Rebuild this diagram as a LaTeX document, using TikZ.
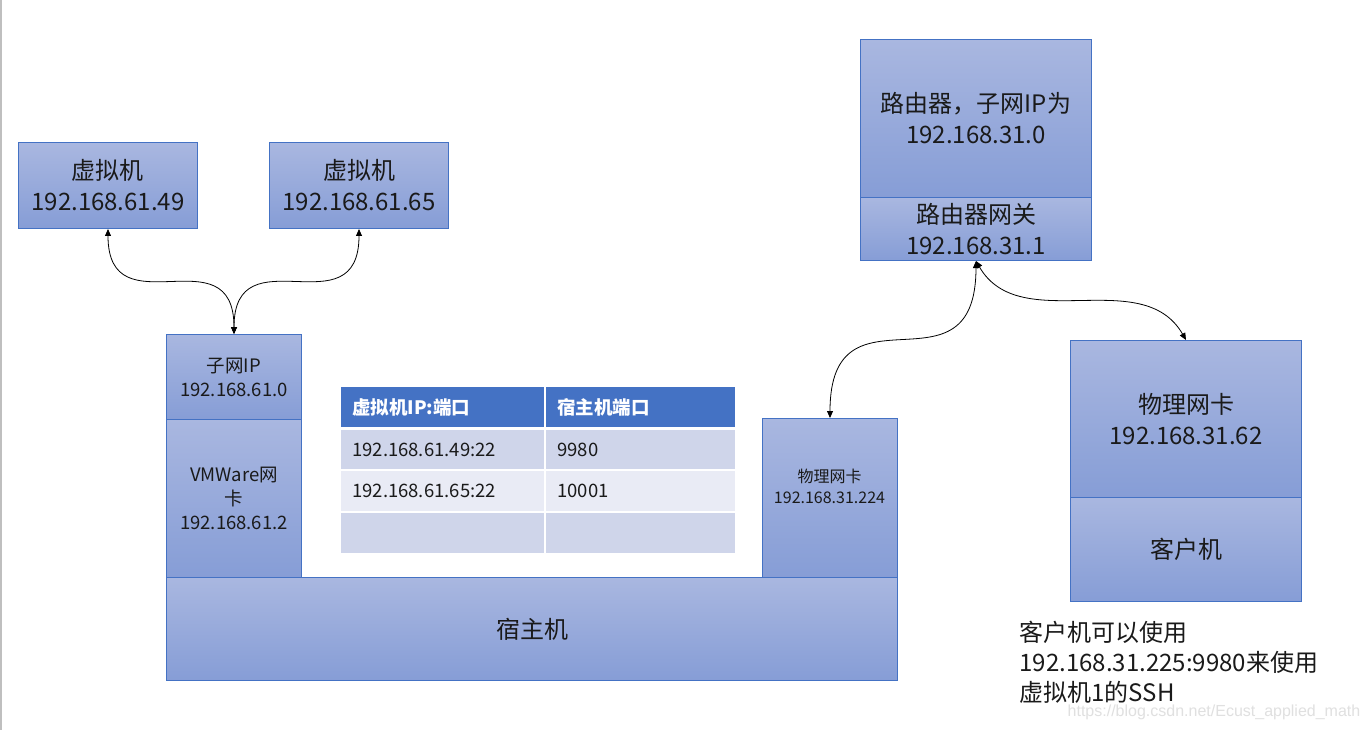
\documentclass[tikz,border=0pt]{standalone}
\usepackage{fontspec}
\setmainfont{Noto Sans CJK SC}
\newfontfamily\wmfont{Liberation Sans}
\usetikzlibrary{arrows.meta}
\definecolor{bd}{HTML}{4472C4}
\definecolor{gt}{HTML}{A9B7E0}
\definecolor{gb}{HTML}{869DD6}
\definecolor{rowa}{HTML}{CFD5EA}
\definecolor{rowb}{HTML}{E9EBF5}
\definecolor{tx}{HTML}{1A1A1A}
\begin{document}
\begin{tikzpicture}[x=1pt,y=-1pt,
  box/.style={draw=bd,line width=1pt,top color=gt,bottom color=gb,anchor=north west,inner sep=0pt,align=center,text=tx},
  big/.style={font=\fontsize{24}{31}\selectfont},
  small/.style={font=\fontsize{18.5}{24}\selectfont},
  tiny/.style={font=\fontsize{16}{21}\selectfont},
  arr/.style={{Triangle[length=7pt,width=6pt]}-{Triangle[length=7pt,width=6pt]},line width=0.8pt,black},
  cell/.style={anchor=north west,inner xsep=11pt,inner ysep=0pt,align=left,font=\fontsize{18.5}{24}\selectfont,text=tx},
  head/.style={cell,fill=bd,text=white,font=\fontsize{18.5}{24}\selectfont\bfseries}
]
\useasboundingbox (0,0) rectangle (1368,730);
\fill[white] (0,0) rectangle (1368,730);
\draw[black!25,line width=1.5pt] (0.75,0) -- (0.75,730);

% left side
\node[box,big,minimum width=179pt,minimum height=86pt] (vm1) at (18,142) {虚拟机\\192.168.61.49};
\node[box,big,minimum width=179pt,minimum height=86pt] (vm2) at (269,142) {虚拟机\\192.168.61.65};
\node[box,small,minimum width=135pt,minimum height=85pt] (sub) at (166,334) {子网IP\\192.168.61.0};
\node[box,small,minimum width=135pt,minimum height=158pt] (vmw) at (166,419) {VMWare网\\卡\\192.168.61.2};
\node[box,minimum width=135pt,minimum height=159pt] (phy1) at (762,418) {};
\node[tiny,align=center,text=tx] (phy1t) at (829.5,486) {物理网卡\\192.168.31.224};
\node[box,big,minimum width=731pt,minimum height=103pt] (host) at (166,577) {宿主机};

% table
\node[head,text width=181pt,minimum height=40pt] (h1) at (341,387) {虚拟机IP:端口};
\node[head,text width=167pt,minimum height=40pt] (h2) at (546,387) {宿主机端口};
\node[cell,fill=rowa,text width=181pt,minimum height=39pt] (c11) at (341,430) {192.168.61.49:22};
\node[cell,fill=rowa,text width=167pt,minimum height=39pt] (c12) at (546,430) {9980};
\node[cell,fill=rowb,text width=181pt,minimum height=40pt] (c21) at (341,471) {192.168.61.65:22};
\node[cell,fill=rowb,text width=167pt,minimum height=40pt] (c22) at (546,471) {10001};
\node[cell,fill=rowa,text width=181pt,minimum height=40pt] (c31) at (341,513) {};
\node[cell,fill=rowa,text width=167pt,minimum height=40pt] (c32) at (546,513) {};

% right side
\node[box,big,minimum width=231pt,minimum height=158pt] (router) at (860,39) {路由器，子网IP为\\192.168.31.0};
\node[box,big,minimum width=231pt,minimum height=63pt] (gw) at (860,197) {路由器网关\\192.168.31.1};
\node[box,big,minimum width=231pt,minimum height=157pt] (phy2) at (1070,340) {物理网卡\\192.168.31.62};
\node[box,big,minimum width=231pt,minimum height=104pt] (client) at (1070,497) {客户机};

\node[anchor=west,align=left,text=tx,font=\fontsize{24}{30}\selectfont] (note) at (1016,662) {客户机可以使用\\192.168.31.225:9980来使用\\虚拟机1的SSH};
\node[text=black!12,font=\wmfont\fontsize{16}{18}\selectfont] (wm) at (1214,712) {https://blog.csdn.net/Ecust\_applied\_math};

% connectors
\draw[arr] (vm1.south) to[out=-90,in=90,looseness=1.6] (sub.north);
\draw[arr] (vm2.south) to[out=-90,in=90,looseness=1.6] (sub.north);
\draw[arr] (gw.south) to[out=-90,in=90,looseness=1.7] (phy1.north);
\draw[arr] (gw.south) to[out=-60,in=120,looseness=1] (phy2.north);
\end{tikzpicture}
\end{document}
